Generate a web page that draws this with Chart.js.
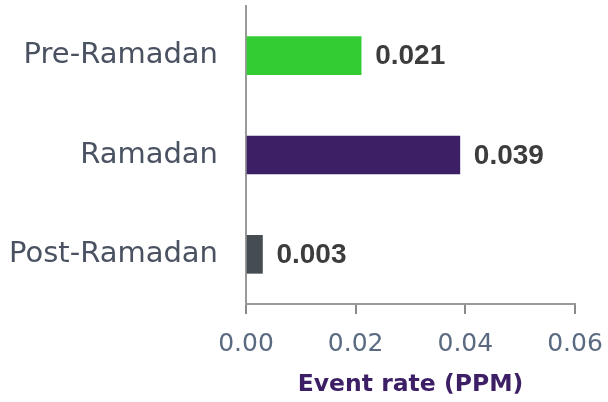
<!DOCTYPE html>
<html>
<head>
<meta charset="utf-8">
<script src="https://cdn.jsdelivr.net/npm/chart.js@4/dist/chart.umd.min.js"></script>
<style>
html,body{margin:0;padding:0;background:#fff;}
#wrap{width:608px;height:402px;}
</style>
</head>
<body>
<div id="wrap"><canvas id="c"></canvas></div>
<script>
const categories = ["Pre-Ramadan", "Ramadan", "Post-Ramadan"];
const eventRates = [0.021, 0.039, 0.003];
const valueLabels = ["0.021", "0.039", "0.003"];
const xTicks = [0.00, 0.02, 0.04, 0.06];
const barColors = ["#33cc33", "#3d1f66", "#454c52"];

const valueLabelPlugin = {
  id: 'valueLabels',
  afterDatasetsDraw(chart) {
    const ctx = chart.ctx;
    const meta = chart.getDatasetMeta(0);
    ctx.save();
    ctx.font = 'bold 28px "Liberation Sans", Arial, sans-serif';
    ctx.fillStyle = '#3c3c3c';
    ctx.textAlign = 'left';
    ctx.textBaseline = 'middle';
    meta.data.forEach((el, i) => {
      ctx.fillText(valueLabels[i], el.x + 14, el.y + 1);
    });
    ctx.restore();
  }
};

new Chart(document.getElementById('c'), {
  type: 'bar',
  data: {
    labels: categories,
    datasets: [{
      data: eventRates,
      backgroundColor: barColors,
      barThickness: 38
    }]
  },
  options: {
    indexAxis: 'y',
    responsive: true,
    maintainAspectRatio: false,
    animation: false,
    layout: { padding: { left: 0, right: 33, top: 6, bottom: 0 } },
    plugins: { legend: { display: false }, tooltip: { enabled: false } },
    scales: {
      x: {
        min: 0, max: 0.06,
        afterBuildTicks(scale) { scale.ticks = xTicks.map(v => ({ value: v })); },
        afterFit(scale) { scale.height = 98; scale.paddingLeft = 0; scale.paddingRight = 0; },
        grid: { display: true, drawOnChartArea: false, drawTicks: true, tickLength: 10, color: '#8a8a8a', lineWidth: 2 },
        border: { display: true, color: '#9a9a9a', width: 2 },
        ticks: {
          padding: 15,
          color: '#5a6a80',
          font: { family: '"DejaVu Sans", sans-serif', size: 25 },
          callback: v => Number(v).toFixed(2)
        },
        title: {
          display: true,
          text: 'Event rate (PPM)',
          color: '#3d1f66',
          font: { family: '"DejaVu Sans", sans-serif', size: 23.5, weight: 'bold' },
          padding: { top: 0, bottom: 3 }
        }
      },
      y: {
        afterFit(scale) { scale.width = 246; scale.paddingTop = 0; scale.paddingBottom = 0; },
        grid: { display: false },
        border: { display: true, color: '#9a9a9a', width: 2 },
        ticks: {
          padding: 20,
          color: '#4a5262',
          font: { family: '"DejaVu Sans", sans-serif', size: 29 }
        }
      }
    }
  },
  plugins: [valueLabelPlugin]
});
</script>
</body>
</html>
